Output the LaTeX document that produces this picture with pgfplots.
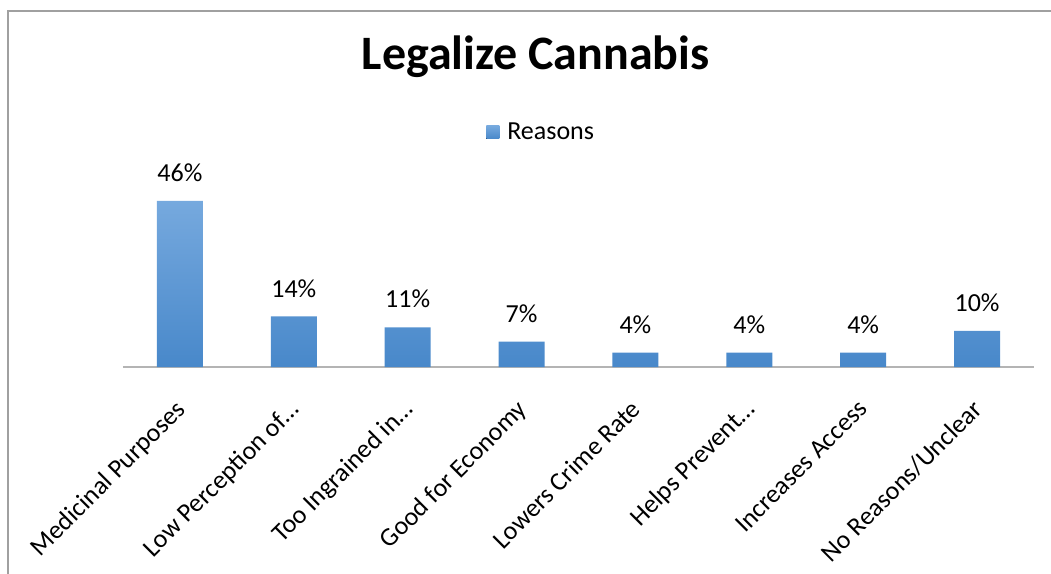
\documentclass[border=0pt]{standalone}
\usepackage{pgfplots}
\pgfplotsset{compat=1.18}
\usepackage{fontspec}
\setmainfont{Carlito}
\definecolor{bartop}{RGB}{118,169,222}
\definecolor{barbot}{RGB}{72,136,202}
\definecolor{framegray}{RGB}{160,160,160}
\definecolor{basegray}{RGB}{180,180,180}
\begin{document}
\begin{tikzpicture}[x=1pt,y=1pt]
\path[use as bounding box] (0,0) rectangle (1051,573);
\draw[framegray, line width=2pt] (8,-2) -- (8,562) -- (1053,562);
\begin{axis}[
  at={(123pt,206pt)}, anchor=south west,
  scale only axis, width=911pt, height=180.5pt,
  xmin=-0.5, xmax=7.5, ymin=0, ymax=50,
  axis y line=none, axis x line*=bottom,
  x axis line style={basegray, line width=2pt, -},
  xtick=data, ytick=\empty,
  major tick length=0pt,
  xticklabels={Medicinal Purposes, Low Perception of…, Too Ingrained in…, Good for Economy, Lowers Crime Rate, Helps Prevent…, Increases Access, No Reasons/Unclear},
  xticklabel style={xshift=-6pt, yshift=-31pt, font=\fontsize{26}{28}\selectfont, rotate=45, anchor=north east, inner sep=0pt},
  /pgf/number format/assume math mode=true,
  nodes near coords={\pgfmathprintnumber{\pgfplotspointmeta}\%},
  nodes near coords style={font=\fontsize{26}{28}\selectfont, anchor=south, inner sep=0pt, yshift=19pt, black},
  title={\textbf{Legalize Cannabis}},
  title style={font=\fontsize{48}{50}\selectfont, at={(0.453,1.684)}, anchor=center, inner sep=0pt},
  legend style={at={(0.459,1.30)}, anchor=center, draw=none, fill=none, font=\fontsize{26}{28}\selectfont, inner sep=0pt},
  legend image code/.code={\fill[top color=bartop, bottom color=barbot] (-4pt,-6.5pt) rectangle (9pt,6.5pt); \path (-4pt,0) -- (15pt,0);},
  clip=false,
]
\addplot[ybar, bar width=46pt, draw=none, top color=bartop, bottom color=barbot]
  coordinates {(0,46) (1,14) (2,11) (3,7) (4,4) (5,4) (6,4) (7,10)};
\addlegendentry{Reasons}
\end{axis}
\end{tikzpicture}
\end{document}
